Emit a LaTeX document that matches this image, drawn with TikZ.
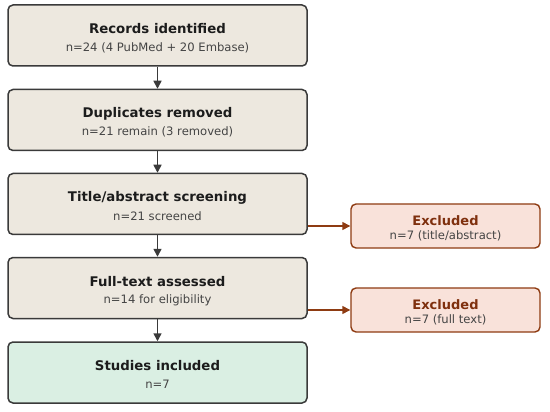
\documentclass[tikz,border=0pt]{standalone}
\usepackage{fontspec}
\setmainfont{DejaVu Sans}
\usetikzlibrary{arrows.meta}
\definecolor{boxfill}{HTML}{EDE8DF}
\definecolor{boxline}{HTML}{3A3A3A}
\definecolor{incfill}{HTML}{DAEFE3}
\definecolor{exfill}{HTML}{F9E2DA}
\definecolor{exline}{HTML}{8E3B12}
\definecolor{extext}{HTML}{7F300E}
\definecolor{subtext}{HTML}{444444}
\definecolor{titletext}{HTML}{1C1C1C}
\tikzset{
  stepbox/.style={draw=boxline, line width=1.5pt, fill=boxfill, rounded corners=5pt, minimum width=299pt, minimum height=61pt, inner sep=0pt},
  incbox/.style={stepbox, fill=incfill},
  exbox/.style={draw=exline, line width=1.4pt, fill=exfill, rounded corners=5pt, minimum width=189pt, minimum height=44pt, inner sep=0pt},
  ttl/.style={font=\fontsize{13.3}{15}\selectfont\bfseries, text=titletext, inner sep=0pt},
  sub/.style={font=\fontsize{11.6}{13}\selectfont, text=subtext, inner sep=0pt},
  exttl/.style={font=\fontsize{13}{15}\selectfont\bfseries, text=extext, inner sep=0pt},
  exsub/.style={font=\fontsize{11.6}{13}\selectfont, text=subtext, inner sep=0pt},
  flow/.style={draw=boxline, line width=1.5pt, -{Triangle[length=8pt,width=8pt]}},
  exflow/.style={draw=exline, line width=1.4pt, -{Triangle[length=8pt,width=8pt]}},
}
\begin{document}
\begin{tikzpicture}[x=1pt,y=-1pt]
\useasboundingbox (0,0) rectangle (550,412);
\node[stepbox] (b1) at (157.5,35.5) {};
\node[stepbox] (b2) at (157.5,120) {};
\node[stepbox] (b3) at (157.5,204) {};
\node[stepbox] (b4) at (157.5,288) {};
\node[incbox] (b5) at (157.5,372.5) {};
\node[exbox] (e1) at (445.5,226) {};
\node[exbox] (e2) at (445.5,310) {};

\node[ttl] (t1) at (157.5,29) {Records identified};
\node[sub] (s1) at (157.5,47.5) {n=24 (4 PubMed + 20 Embase)};
\node[ttl] (t2) at (157.5,113.5) {Duplicates removed};
\node[sub] (s2) at (157.5,132) {n=21 remain (3 removed)};
\node[ttl] (t3) at (157.5,197.5) {Title/abstract screening};
\node[sub] (s3) at (157.5,216) {n=21 screened};
\node[ttl] (t4) at (157.5,281.5) {Full-text assessed};
\node[sub] (s4) at (157.5,300) {n=14 for eligibility};
\node[ttl] (t5) at (157.5,366) {Studies included};
\node[sub] (s5) at (157.5,384.5) {n=7};

\node[exttl] (x1) at (445.5,221) {Excluded};
\node[exsub] (y1) at (445.5,235.5) {n=7 (title/abstract)};
\node[exttl] (x2) at (445.5,305) {Excluded};
\node[exsub] (y2) at (445.5,319.5) {n=7 (full text)};

\draw[flow] (b1.south) -- (b2.north);
\draw[flow] (b2.south) -- (b3.north);
\draw[flow] (b3.south) -- (b4.north);
\draw[flow] (b4.south) -- (b5.north);
\draw[exflow] (b3.east |- e1.west) -- (e1.west);
\draw[exflow] (b4.east |- e2.west) -- (e2.west);
\end{tikzpicture}
\end{document}
